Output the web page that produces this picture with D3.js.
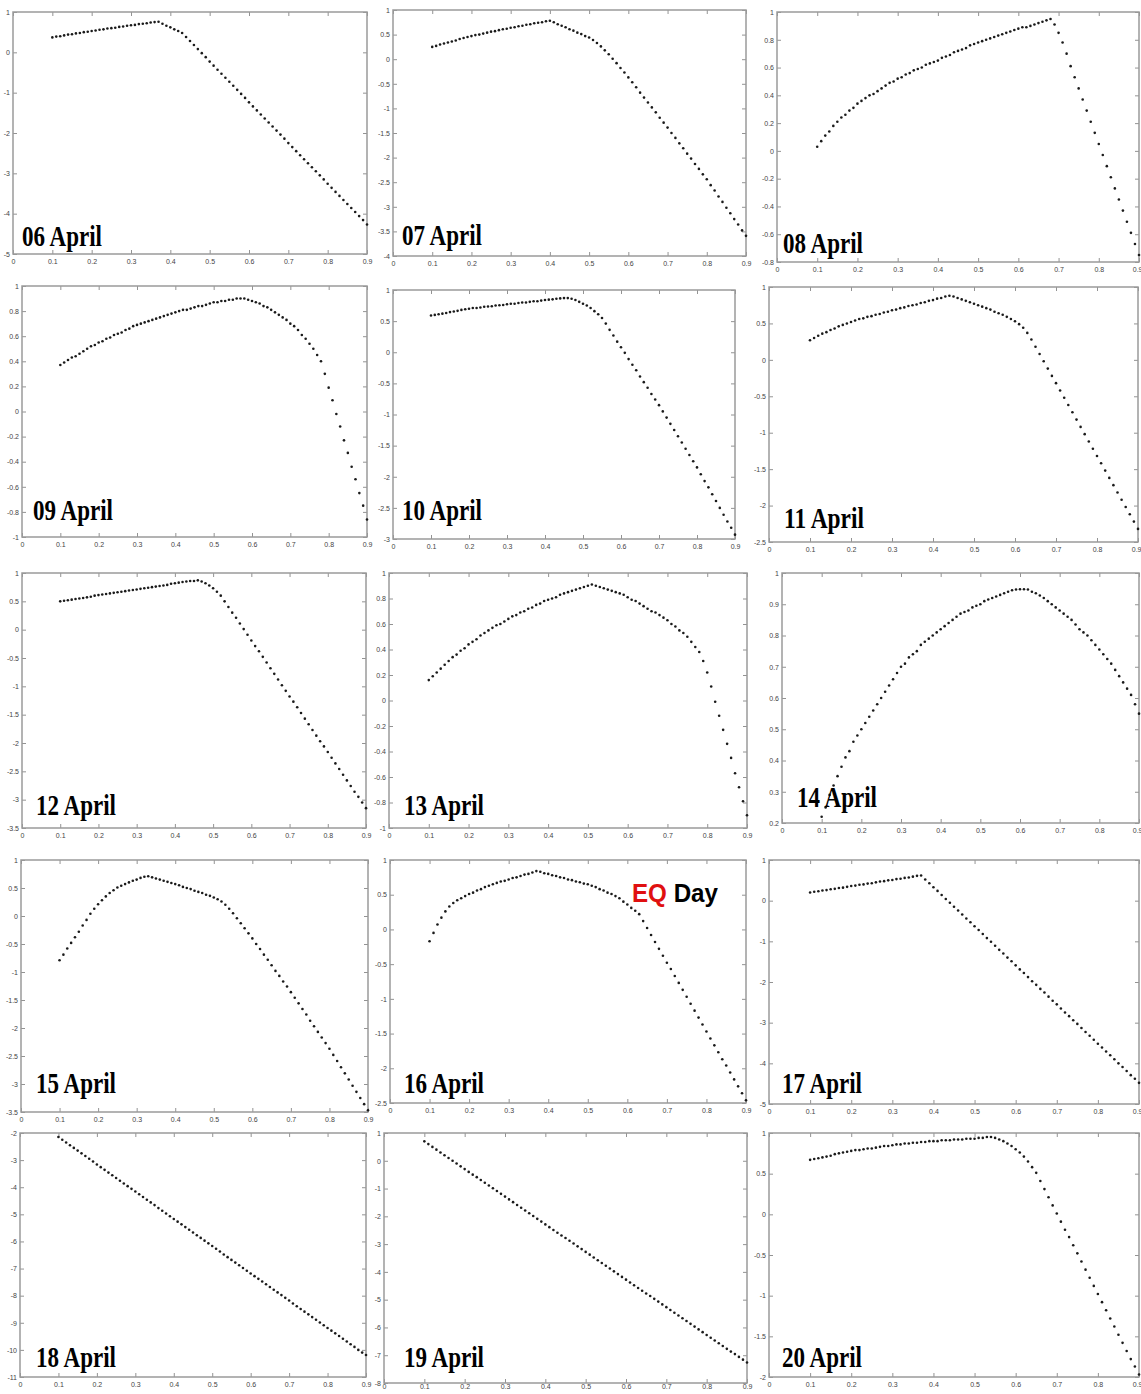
<!DOCTYPE html>
<html><head><meta charset="utf-8">
<script src="https://cdn.jsdelivr.net/npm/d3@7"></script>
<style>body{margin:0;background:#fff}svg{display:block}</style>
</head><body>
<svg id="chart" width="1141" height="1394"></svg>
<script>
// ---------- data ----------
const xValues = [
 0.10,0.11,0.12,0.13,0.14,0.15,0.16,0.17,0.18,0.19,
 0.20,0.21,0.22,0.23,0.24,0.25,0.26,0.27,0.28,0.29,
 0.30,0.31,0.32,0.33,0.34,0.35,0.36,0.37,0.38,0.39,
 0.40,0.41,0.42,0.43,0.44,0.45,0.46,0.47,0.48,0.49,
 0.50,0.51,0.52,0.53,0.54,0.55,0.56,0.57,0.58,0.59,
 0.60,0.61,0.62,0.63,0.64,0.65,0.66,0.67,0.68,0.69,
 0.70,0.71,0.72,0.73,0.74,0.75,0.76,0.77,0.78,0.79,
 0.80,0.81,0.82,0.83,0.84,0.85,0.86,0.87,0.88,0.89,
 0.90];
const xTicks = [0,0.1,0.2,0.3,0.4,0.5,0.6,0.7,0.8,0.9];
const panelNames = ["06 April","07 April","08 April","09 April","10 April","11 April","12 April","13 April","14 April","15 April","16 April","17 April","18 April","19 April","20 April"];

const apr06 = [
 0.37,0.39,0.40,0.42,0.44,0.45,0.47,0.48,0.50,0.51,
 0.53,0.54,0.56,0.57,0.59,0.60,0.61,0.63,0.64,0.66,
 0.67,0.68,0.70,0.71,0.72,0.74,0.75,0.76,0.71,0.66,
 0.62,0.57,0.53,0.48,0.38,0.28,0.18,0.08,-0.02,-0.12,
 -0.23,-0.33,-0.43,-0.53,-0.63,-0.73,-0.83,-0.93,-1.03,-1.13,
 -1.24,-1.34,-1.44,-1.54,-1.64,-1.74,-1.84,-1.94,-2.04,-2.14,
 -2.25,-2.35,-2.45,-2.55,-2.65,-2.75,-2.85,-2.95,-3.05,-3.15,
 -3.26,-3.36,-3.46,-3.56,-3.66,-3.76,-3.86,-3.96,-4.06,-4.16,
 -4.27];
const apr07 = [
 0.25,0.27,0.30,0.32,0.34,0.36,0.38,0.41,0.43,0.45,
 0.47,0.49,0.50,0.52,0.54,0.56,0.57,0.59,0.61,0.62,
 0.64,0.65,0.67,0.68,0.70,0.71,0.73,0.74,0.75,0.77,
 0.78,0.75,0.71,0.68,0.65,0.61,0.58,0.54,0.51,0.47,
 0.44,0.39,0.33,0.26,0.18,0.10,0.01,-0.08,-0.18,-0.27,
 -0.37,-0.47,-0.57,-0.68,-0.78,-0.88,-0.98,-1.08,-1.19,-1.29,
 -1.39,-1.50,-1.60,-1.71,-1.81,-1.92,-2.02,-2.13,-2.23,-2.34,
 -2.44,-2.56,-2.67,-2.79,-2.90,-3.02,-3.13,-3.25,-3.36,-3.48,
 -3.59];
const apr08 = [
 0.03,0.07,0.11,0.14,0.18,0.21,0.24,0.26,0.29,0.31,
 0.34,0.36,0.38,0.40,0.41,0.43,0.45,0.47,0.49,0.50,
 0.52,0.53,0.55,0.56,0.58,0.59,0.60,0.62,0.63,0.64,
 0.65,0.67,0.68,0.69,0.71,0.72,0.73,0.74,0.76,0.77,
 0.78,0.79,0.80,0.81,0.82,0.83,0.84,0.85,0.86,0.87,
 0.88,0.89,0.89,0.90,0.91,0.92,0.93,0.94,0.95,0.91,
 0.85,0.78,0.70,0.61,0.53,0.45,0.37,0.29,0.21,0.13,
 0.05,-0.03,-0.11,-0.19,-0.27,-0.35,-0.43,-0.51,-0.59,-0.67,
 -0.75];
const apr09 = [
 0.37,0.39,0.41,0.43,0.44,0.46,0.48,0.50,0.52,0.53,
 0.55,0.56,0.58,0.59,0.61,0.62,0.63,0.65,0.66,0.68,
 0.69,0.70,0.71,0.72,0.73,0.74,0.75,0.76,0.77,0.78,
 0.79,0.80,0.81,0.81,0.82,0.83,0.84,0.84,0.85,0.86,
 0.87,0.87,0.88,0.88,0.89,0.89,0.90,0.90,0.90,0.89,
 0.88,0.87,0.86,0.84,0.83,0.81,0.79,0.77,0.75,0.73,
 0.70,0.68,0.65,0.61,0.58,0.54,0.50,0.45,0.40,0.30,
 0.19,0.09,-0.02,-0.12,-0.23,-0.33,-0.44,-0.54,-0.65,-0.75,
 -0.86];
const apr10 = [
 0.59,0.60,0.61,0.62,0.63,0.645,0.655,0.665,0.68,0.69,
 0.70,0.71,0.71,0.72,0.73,0.735,0.74,0.75,0.755,0.76,
 0.77,0.78,0.78,0.79,0.80,0.80,0.81,0.82,0.82,0.83,
 0.84,0.845,0.85,0.86,0.865,0.87,0.87,0.86,0.84,0.81,
 0.78,0.75,0.71,0.66,0.61,0.55,0.46,0.36,0.27,0.17,
 0.08,-0.01,-0.11,-0.20,-0.29,-0.39,-0.48,-0.57,-0.67,-0.76,
 -0.85,-0.95,-1.05,-1.15,-1.25,-1.35,-1.45,-1.55,-1.65,-1.75,
 -1.85,-1.96,-2.07,-2.17,-2.28,-2.39,-2.50,-2.61,-2.72,-2.82,
 -2.93];
const apr11 = [
 0.27,0.30,0.33,0.36,0.38,0.41,0.43,0.46,0.48,0.50,
 0.52,0.54,0.56,0.57,0.59,0.60,0.62,0.63,0.65,0.66,
 0.68,0.69,0.71,0.72,0.74,0.75,0.76,0.78,0.79,0.81,
 0.82,0.84,0.85,0.87,0.88,0.87,0.85,0.83,0.81,0.79,
 0.77,0.75,0.73,0.71,0.69,0.66,0.64,0.62,0.59,0.56,
 0.53,0.49,0.44,0.37,0.28,0.18,0.08,-0.02,-0.12,-0.22,
 -0.32,-0.42,-0.52,-0.62,-0.72,-0.82,-0.92,-1.02,-1.12,-1.22,
 -1.32,-1.42,-1.52,-1.62,-1.72,-1.82,-1.92,-2.02,-2.12,-2.22,
 -2.32];
const apr12 = [
 0.50,0.51,0.52,0.53,0.54,0.55,0.56,0.57,0.58,0.60,
 0.61,0.62,0.63,0.64,0.65,0.66,0.67,0.68,0.69,0.70,
 0.71,0.72,0.73,0.74,0.75,0.76,0.77,0.78,0.79,0.81,
 0.82,0.83,0.84,0.85,0.86,0.86,0.87,0.85,0.82,0.78,
 0.73,0.67,0.60,0.50,0.40,0.30,0.21,0.11,0.01,-0.09,
 -0.19,-0.29,-0.38,-0.48,-0.58,-0.68,-0.78,-0.88,-0.98,-1.08,
 -1.18,-1.27,-1.37,-1.47,-1.57,-1.67,-1.77,-1.87,-1.97,-2.06,
 -2.16,-2.26,-2.36,-2.46,-2.56,-2.66,-2.76,-2.86,-2.95,-3.05,
 -3.15];
const apr13 = [
 0.16,0.19,0.22,0.25,0.28,0.31,0.34,0.36,0.39,0.41,
 0.44,0.46,0.48,0.51,0.53,0.55,0.57,0.59,0.60,0.62,
 0.64,0.66,0.67,0.69,0.70,0.72,0.73,0.75,0.76,0.78,
 0.79,0.80,0.81,0.83,0.84,0.85,0.86,0.87,0.88,0.89,
 0.90,0.91,0.90,0.89,0.88,0.87,0.86,0.85,0.84,0.83,
 0.81,0.79,0.78,0.76,0.74,0.72,0.70,0.69,0.67,0.65,
 0.63,0.60,0.58,0.55,0.53,0.50,0.46,0.42,0.38,0.31,
 0.22,0.11,-0.01,-0.12,-0.23,-0.34,-0.45,-0.57,-0.68,-0.79,
 -0.90];
const apr14 = [
 0.22,0.25,0.29,0.32,0.35,0.38,0.41,0.43,0.46,0.48,
 0.50,0.52,0.54,0.56,0.58,0.60,0.62,0.64,0.66,0.68,
 0.70,0.71,0.73,0.74,0.75,0.77,0.78,0.79,0.80,0.81,
 0.82,0.83,0.84,0.85,0.86,0.87,0.875,0.88,0.89,0.895,
 0.90,0.91,0.915,0.92,0.925,0.93,0.935,0.94,0.945,0.947,
 0.948,0.948,0.947,0.94,0.935,0.928,0.92,0.91,0.90,0.89,
 0.88,0.87,0.86,0.85,0.835,0.82,0.81,0.80,0.785,0.77,
 0.755,0.74,0.725,0.71,0.69,0.67,0.65,0.63,0.61,0.58,
 0.55];
const apr15 = [
 -0.79,-0.69,-0.58,-0.48,-0.38,-0.28,-0.17,-0.07,0.04,0.13,
 0.21,0.28,0.35,0.41,0.46,0.51,0.54,0.57,0.60,0.63,
 0.65,0.68,0.70,0.71,0.69,0.67,0.65,0.63,0.61,0.59,
 0.57,0.55,0.52,0.50,0.48,0.45,0.43,0.41,0.38,0.36,
 0.33,0.30,0.26,0.20,0.13,0.05,-0.04,-0.13,-0.22,-0.31,
 -0.40,-0.50,-0.59,-0.69,-0.78,-0.88,-0.98,-1.07,-1.17,-1.26,
 -1.36,-1.46,-1.56,-1.66,-1.76,-1.87,-1.97,-2.07,-2.17,-2.27,
 -2.37,-2.48,-2.59,-2.70,-2.81,-2.92,-3.03,-3.14,-3.25,-3.36,
 -3.47];
const apr16 = [
 -0.17,-0.05,0.07,0.17,0.26,0.33,0.38,0.42,0.45,0.48,
 0.51,0.53,0.56,0.58,0.61,0.63,0.65,0.67,0.69,0.70,
 0.72,0.74,0.75,0.77,0.79,0.80,0.82,0.84,0.83,0.81,
 0.80,0.78,0.77,0.75,0.74,0.72,0.71,0.69,0.68,0.66,
 0.65,0.63,0.61,0.58,0.56,0.53,0.51,0.48,0.45,0.40,
 0.36,0.31,0.27,0.22,0.12,0.02,-0.08,-0.18,-0.28,-0.38,
 -0.48,-0.57,-0.67,-0.77,-0.87,-0.97,-1.07,-1.17,-1.27,-1.37,
 -1.47,-1.57,-1.67,-1.77,-1.87,-1.96,-2.06,-2.16,-2.26,-2.36,
 -2.46];
const apr17 = [
 0.20,0.22,0.23,0.25,0.26,0.28,0.29,0.31,0.32,0.34,
 0.36,0.37,0.39,0.40,0.42,0.43,0.45,0.47,0.48,0.50,
 0.51,0.53,0.54,0.56,0.57,0.59,0.61,0.62,0.52,0.43,
 0.33,0.24,0.14,0.04,-0.05,-0.15,-0.24,-0.34,-0.44,-0.53,
 -0.63,-0.72,-0.82,-0.92,-1.01,-1.11,-1.21,-1.30,-1.40,-1.49,
 -1.59,-1.69,-1.78,-1.88,-1.98,-2.07,-2.17,-2.26,-2.36,-2.46,
 -2.55,-2.65,-2.75,-2.84,-2.94,-3.03,-3.13,-3.23,-3.32,-3.42,
 -3.52,-3.61,-3.71,-3.80,-3.90,-4.00,-4.09,-4.19,-4.29,-4.38,
 -4.48];
const apr18 = [
 -2.15,-2.25,-2.35,-2.45,-2.55,-2.65,-2.75,-2.85,-2.95,-3.05,
 -3.16,-3.26,-3.36,-3.46,-3.56,-3.66,-3.76,-3.86,-3.96,-4.06,
 -4.16,-4.26,-4.36,-4.46,-4.56,-4.66,-4.77,-4.87,-4.97,-5.07,
 -5.17,-5.27,-5.37,-5.47,-5.57,-5.67,-5.77,-5.87,-5.97,-6.07,
 -6.17,-6.27,-6.37,-6.48,-6.58,-6.68,-6.78,-6.88,-6.98,-7.08,
 -7.18,-7.28,-7.38,-7.48,-7.58,-7.68,-7.78,-7.88,-7.98,-8.08,
 -8.18,-8.29,-8.39,-8.49,-8.59,-8.69,-8.79,-8.89,-8.99,-9.09,
 -9.19,-9.29,-9.39,-9.49,-9.59,-9.69,-9.79,-9.89,-10.00,-10.10,
 -10.19];
const apr19 = [
 0.70,0.60,0.50,0.40,0.30,0.20,0.10,0.00,-0.10,-0.20,
 -0.30,-0.40,-0.50,-0.59,-0.69,-0.79,-0.89,-0.99,-1.09,-1.19,
 -1.29,-1.39,-1.49,-1.59,-1.69,-1.79,-1.89,-1.99,-2.09,-2.19,
 -2.29,-2.39,-2.49,-2.59,-2.69,-2.78,-2.88,-2.98,-3.08,-3.18,
 -3.28,-3.38,-3.48,-3.58,-3.68,-3.78,-3.88,-3.98,-4.08,-4.18,
 -4.28,-4.38,-4.48,-4.58,-4.68,-4.78,-4.87,-4.97,-5.07,-5.17,
 -5.27,-5.37,-5.47,-5.57,-5.67,-5.77,-5.87,-5.97,-6.07,-6.17,
 -6.27,-6.37,-6.47,-6.57,-6.67,-6.77,-6.87,-6.96,-7.06,-7.16,
 -7.26];
const apr20 = [
 0.67,0.68,0.69,0.70,0.71,0.72,0.74,0.75,0.76,0.77,
 0.78,0.79,0.79,0.80,0.81,0.81,0.82,0.83,0.84,0.84,
 0.85,0.86,0.86,0.87,0.87,0.88,0.88,0.89,0.89,0.90,
 0.90,0.90,0.91,0.91,0.91,0.92,0.92,0.92,0.93,0.93,
 0.93,0.94,0.94,0.95,0.95,0.94,0.92,0.90,0.87,0.84,
 0.80,0.76,0.71,0.65,0.58,0.51,0.41,0.31,0.21,0.11,
 0.01,-0.09,-0.19,-0.28,-0.38,-0.48,-0.58,-0.68,-0.78,-0.88,
 -0.98,-1.08,-1.18,-1.28,-1.38,-1.48,-1.58,-1.68,-1.78,-1.87,
 -1.97];

const yTicks06 = [-5,-4,-3,-2,-1,0,1];
const yTicks07 = [-4,-3.5,-3,-2.5,-2,-1.5,-1,-0.5,0,0.5,1];
const yTicks08 = [-0.8,-0.6,-0.4,-0.2,0,0.2,0.4,0.6,0.8,1];
const yTicks09 = [-1,-0.8,-0.6,-0.4,-0.2,0,0.2,0.4,0.6,0.8,1];
const yTicks10 = [-3,-2.5,-2,-1.5,-1,-0.5,0,0.5,1];
const yTicks11 = [-2.5,-2,-1.5,-1,-0.5,0,0.5,1];
const yTicks12 = [-3.5,-3,-2.5,-2,-1.5,-1,-0.5,0,0.5,1];
const yTicks13 = [-1,-0.8,-0.6,-0.4,-0.2,0,0.2,0.4,0.6,0.8,1];
const yTicks14 = [0.2,0.3,0.4,0.5,0.6,0.7,0.8,0.9,1];
const yTicks15 = [-3.5,-3,-2.5,-2,-1.5,-1,-0.5,0,0.5,1];
const yTicks16 = [-2.5,-2,-1.5,-1,-0.5,0,0.5,1];
const yTicks17 = [-5,-4,-3,-2,-1,0,1];
const yTicks18 = [-11,-10,-9,-8,-7,-6,-5,-4,-3,-2];
const yTicks19 = [-8,-7,-6,-5,-4,-3,-2,-1,0,1];
const yTicks20 = [-2,-1.5,-1,-0.5,0,0.5,1];

const eqPart = "EQ";
const dayPart = " Day";

// ---------- layout (positions / styles only) ----------
const layout = [
 {x0:13, x1:367, y0:12,  y1:254, lx:22,  ly:246},
 {x0:393,x1:746, y0:10,  y1:256, lx:402, ly:245},
 {x0:777,x1:1139,y0:12,  y1:262, lx:783, ly:253},
 {x0:22, x1:367, y0:286, y1:537, lx:33,  ly:520},
 {x0:393,x1:735, y0:290, y1:539, lx:402, ly:520},
 {x0:769,x1:1138,y0:287, y1:542, lx:784, ly:528},
 {x0:22, x1:366, y0:573, y1:828, lx:36,  ly:815},
 {x0:389,x1:747, y0:573, y1:828, lx:404, ly:815},
 {x0:782,x1:1139,y0:573, y1:823, lx:797, ly:807},
 {x0:21, x1:368, y0:860, y1:1112,lx:36,  ly:1093},
 {x0:390,x1:746, y0:860, y1:1103,lx:404, ly:1093},
 {x0:769,x1:1139,y0:860, y1:1104,lx:782, ly:1093},
 {x0:20, x1:366, y0:1133,y1:1377,lx:36,  ly:1367},
 {x0:384,x1:747, y0:1133,y1:1383,lx:404, ly:1367},
 {x0:769,x1:1139,y0:1133,y1:1377,lx:782, ly:1367}
];

const series = [apr06,apr07,apr08,apr09,apr10,apr11,apr12,apr13,apr14,apr15,apr16,apr17,apr18,apr19,apr20];
const tickSets = [yTicks06,yTicks07,yTicks08,yTicks09,yTicks10,yTicks11,yTicks12,yTicks13,yTicks14,yTicks15,yTicks16,yTicks17,yTicks18,yTicks19,yTicks20];

const svg = d3.select("#chart");
const fmt = d => String(+(+d).toFixed(2));
const frameColor = "#9a9a9a";
const W = 1141, H = 1394;

series.forEach((vals, i) => {
  const L = layout[i];
  const ticks = tickSets[i];
  const x = d3.scaleLinear().domain([0, 0.9]).range([L.x0, L.x1]);
  const y = d3.scaleLinear().domain(d3.extent(ticks)).range([L.y1, L.y0]);
  const g = svg.append("g");

  const styleAxis = (sel) => {
    sel.select(".domain").remove();
    sel.selectAll(".tick line").attr("stroke", "#777").attr("stroke-width", 0.8);
    sel.selectAll(".tick text").attr("fill", "#444")
      .style("font-family", "'Liberation Sans', Arial, sans-serif").style("font-size", "7px");
  };

  const pad = (L.y1 + 12 > H) ? 1 : 5;
  const bottom = g.append("g").attr("transform", `translate(0,${L.y1})`)
    .call(d3.axisBottom(x).tickValues(xTicks).tickSize(-4).tickPadding(pad).tickFormat(fmt))
    .call(styleAxis);
  // keep the last label inside the picture when the panel touches the right edge
  bottom.selectAll(".tick text")
    .filter(d => x(d) + 6 > W)
    .attr("text-anchor", "end").attr("dx", "3");

  g.append("g").attr("transform", `translate(0,${L.y0})`)
    .call(d3.axisTop(x).tickValues(xTicks).tickSize(-4).tickFormat(""))
    .call(styleAxis);
  g.append("g").attr("transform", `translate(${L.x0},0)`)
    .call(d3.axisLeft(y).tickValues(ticks).tickSize(-4).tickPadding(3).tickFormat(fmt))
    .call(styleAxis);
  g.append("g").attr("transform", `translate(${L.x1},0)`)
    .call(d3.axisRight(y).tickValues(ticks).tickSize(-4).tickFormat(""))
    .call(styleAxis);

  g.append("rect")
    .attr("x", L.x0).attr("y", L.y0)
    .attr("width", L.x1 - L.x0).attr("height", L.y1 - L.y0)
    .attr("fill", "none").attr("stroke", frameColor).attr("stroke-width", 1.5);

  g.append("g").selectAll("circle")
    .data(vals.map((v, k) => [xValues[k], v]))
    .join("circle")
    .attr("cx", d => x(d[0])).attr("cy", d => y(d[1]))
    .attr("r", 1.3).attr("fill", "#1a1a1a");

  g.append("text")
    .attr("x", L.lx).attr("y", L.ly)
    .attr("textLength", 80).attr("lengthAdjust", "spacingAndGlyphs")
    .style("font-family", "'Liberation Serif', 'Times New Roman', serif")
    .style("font-weight", "bold").style("font-size", "30px")
    .attr("fill", "#000")
    .text(panelNames[i]);

  if (panelNames[i] === "16 April") {
    const t = svg.append("text")
      .attr("x", 632).attr("y", 902)
      .attr("textLength", 86).attr("lengthAdjust", "spacingAndGlyphs")
      .style("font-family", "'Liberation Sans', Arial, sans-serif")
      .style("font-weight", "bold").style("font-size", "26px");
    t.append("tspan").attr("fill", "#e01010").text(eqPart);
    t.append("tspan").attr("fill", "#000").text(dayPart);
  }
});
</script>
</body></html>
